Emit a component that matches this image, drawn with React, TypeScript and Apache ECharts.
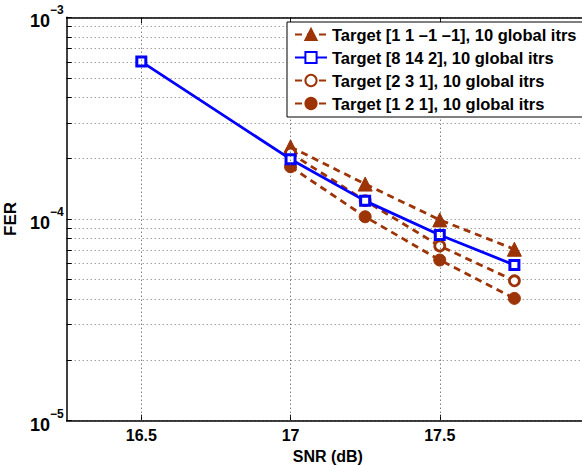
import React, { useEffect, useRef } from "react";
import * as echarts from "echarts";

const snrAll = [16.5, 17, 17.25, 17.5, 17.75];
const snr = [17, 17.25, 17.5, 17.75];
const ferTarget1111 = [2.28e-4, 1.49e-4, 9.9e-5, 7.08e-5];
const ferTarget8142 = [6.03e-4, 1.98e-4, 1.23e-4, 8.33e-5, 5.92e-5];
const ferTarget231 = [2.12e-4, 1.233e-4, 7.35e-5, 4.94e-5];
const ferTarget121 = [1.816e-4, 1.026e-4, 6.26e-5, 4.04e-5];
const seriesNames = [
  "Target [1 1 \u20131 \u20131], 10 global itrs",
  "Target [8 14 2], 10 global itrs",
  "Target [2 3 1], 10 global itrs",
  "Target [1 2 1], 10 global itrs",
];
const xTicks = [16.5, 17, 17.5];
const yMajor = [1e-5, 1e-4, 1e-3];
const yAllTicks = [
  1e-5, 2e-5, 3e-5, 4e-5, 5e-5, 6e-5, 7e-5, 8e-5, 9e-5,
  1e-4, 2e-4, 3e-4, 4e-4, 5e-4, 6e-4, 7e-4, 8e-4, 9e-4, 1e-3,
];

const BROWN = "#9C3408";
const BLUE = "#0000FF";
const FONT = "'Liberation Sans', Arial, Helvetica, sans-serif";

export default function App() {
  const ref = useRef<HTMLDivElement>(null);
  useEffect(() => {
    if (!ref.current) return;
    const chart = echarts.init(ref.current, undefined, { renderer: "svg" });
    const pair = (xs: number[], ys: number[]) => xs.map((x, i) => [x, ys[i]]);
    const gridStyle = { color: "#777", type: [1, 3] as any, width: 1 };
    const vGridStyle = { color: "#444", type: [1, 3] as any, width: 1 };
    const dashed = { color: BROWN, width: 2.8, type: [7, 5] as any };
    chart.setOption({
      animation: false,
      backgroundColor: "#fff",
      textStyle: { fontFamily: FONT },
      grid: { show: false, left: 66.7, top: 17.3, width: 522.3, height: 403.4, containLabel: false, outerBoundsMode: "none" },
      legend: {
        left: 287,
        top: 22,
        orient: "vertical",
        padding: [4, 10, 5, 7],
        itemWidth: 32,
        itemHeight: 14,
        itemGap: 6,
        backgroundColor: "#fff",
        borderColor: "#000",
        borderWidth: 1,
        borderRadius: 0,
        textStyle: { fontSize: 16.5, fontWeight: "bold", color: "#000", fontFamily: FONT },
        data: seriesNames,
        z: 10,
      },
      xAxis: [
        {
          type: "value",
          min: 16.25,
          max: 18,
          name: "SNR (dB)",
          nameLocation: "middle",
          nameGap: 28,
          nameTextStyle: { fontSize: 16, fontWeight: "bold", color: "#000", fontFamily: FONT },
          axisLine: { show: true, onZero: false, lineStyle: { color: "#000", width: 1.5 } },
          axisTick: { show: true, inside: true, length: 6, customValues: xTicks, lineStyle: { color: "#000" } },
          axisLabel: {
            customValues: xTicks,
            margin: 7,
            fontSize: 16,
            fontWeight: "bold",
            color: "#000",
            fontFamily: FONT,
          },
          splitLine: { show: false },
        },
        {
          type: "value",
          position: "top",
          min: 16.25,
          max: 18,
          axisLine: { show: true, onZero: false, lineStyle: { color: "#000", width: 1.5 } },
          axisTick: { show: true, inside: true, length: 6, customValues: xTicks, lineStyle: { color: "#000" } },
          axisLabel: { show: false },
          splitLine: { show: false },
        },
      ],
      yAxis: [
        {
          type: "log",
          logBase: 10,
          min: 1e-5,
          max: 1e-3,
          name: "FER",
          nameLocation: "middle",
          nameGap: 27,
          nameRotate: 90,
          nameTextStyle: { fontSize: 17, fontWeight: "bold", color: "#000", fontFamily: FONT },
          axisLine: { show: true, onZero: false, lineStyle: { color: "#000", width: 1.5 } },
          axisTick: { show: true, inside: true, length: 5, customValues: yAllTicks, lineStyle: { color: "#000" } },
          axisLabel: {
            customValues: yMajor,
            margin: 3,
            formatter: (v: number) => {
              const e = Math.round(Math.log10(v));
              return "{b|10}{s|\u2212" + Math.abs(e) + "}";
            },
            rich: {
              b: { fontSize: 18, fontWeight: "bold", color: "#000", fontFamily: FONT, lineHeight: 26, verticalAlign: "bottom", padding: [8, 0, 0, 0] },
              s: { fontSize: 12, fontWeight: "bold", color: "#000", fontFamily: FONT, lineHeight: 26, verticalAlign: "top", padding: [0, 0, 10, 0] },
            },
          },
          splitLine: { show: true, lineStyle: gridStyle },
        },
      ],
      series: [
        {
          name: "xgrid",
          type: "line",
          data: [],
          silent: true,
          z: 1,
          markLine: {
            silent: true,
            symbol: ["none", "none"],
            label: { show: false },
            lineStyle: vGridStyle,
            emphasis: { disabled: true },
            data: xTicks.map((v) => ({ xAxis: v })),
          },
        },
        {
          name: seriesNames[0],
          type: "line",
          data: pair(snr, ferTarget1111),
          symbol: "triangle",
          symbolSize: 14,
          itemStyle: { color: BROWN, borderColor: BROWN, borderWidth: 1 },
          lineStyle: dashed,
          z: 3,
        },
        {
          name: seriesNames[1],
          type: "line",
          data: pair(snrAll, ferTarget8142),
          symbol: "rect",
          symbolSize: 9,
          itemStyle: { color: "#fff", borderColor: BLUE, borderWidth: 3 },
          lineStyle: { color: BLUE, width: 2.8 },
          z: 4,
        },
        {
          name: seriesNames[2],
          type: "line",
          data: pair(snr, ferTarget231),
          symbol: "circle",
          symbolSize: 10,
          itemStyle: { color: "#fff", borderColor: BROWN, borderWidth: 2.8 },
          lineStyle: dashed,
          z: 3,
        },
        {
          name: seriesNames[3],
          type: "line",
          data: pair(snr, ferTarget121),
          symbol: "circle",
          symbolSize: 12,
          itemStyle: { color: BROWN, borderColor: BROWN, borderWidth: 1 },
          lineStyle: dashed,
          z: 3,
        },
      ],
    });
    return () => chart.dispose();
  }, []);
  return <div ref={ref} style={{ width: 582, height: 465, position: "absolute", left: 0, top: 0 }} />;
}
